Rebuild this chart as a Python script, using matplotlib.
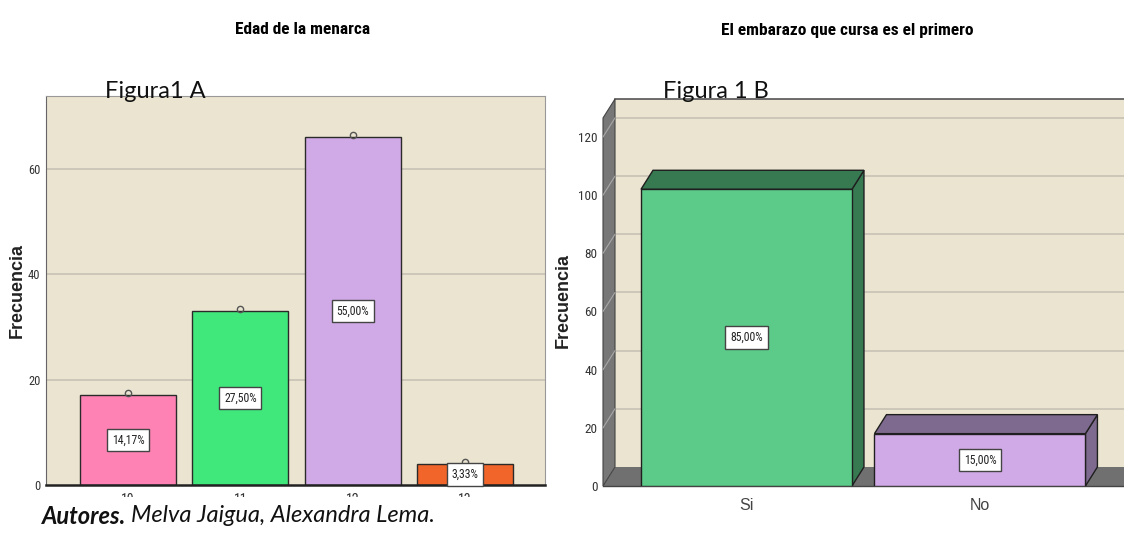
import matplotlib
matplotlib.use("Agg")
import matplotlib.pyplot as plt
from matplotlib import font_manager, transforms
from matplotlib.patches import Polygon, Rectangle
import numpy as np

# ---- data -------------------------------------------------------------
menarca_ages = ["10", "11", "12", "13"]
menarca_counts = [17, 33, 66, 4]
menarca_pct = ["14,17%", "27,50%", "55,00%", "3,33%"]
menarca_colors = ["#FF82B4", "#40E87C", "#D0AAE6", "#F2652A"]

primero_cats = ["Si", "No"]
primero_counts = [102, 18]
primero_pct = ["85,00%", "15,00%"]
primero_front = ["#5CCB8A", "#D0AAE6"]
primero_shade = ["#377A52", "#7E6A8E"]

left_yticks = [0, 20, 40, 60]
right_yticks = [0, 20, 40, 60, 80, 100, 120]


def pick(*names):
    avail = {f.name for f in font_manager.fontManager.ttflist}
    for n in names:
        if n in avail:
            return n
    return "DejaVu Sans"


NARROW = pick("Liberation Sans Narrow", "Roboto Condensed", "DejaVu Sans")
ARIAL = pick("Liberation Sans", "DejaVu Sans")
CAL = pick("Lato", "Open Sans", "DejaVu Sans")

W, H = 1124, 536
fig = plt.figure(figsize=(W / 100, H / 100), dpi=100)
fig.patch.set_facecolor("white")


def frac(x0, y0, x1, y1):
    return [x0 / W, 1 - y1 / H, (x1 - x0) / W, (y1 - y0) / H]


BEIGE = "#EAE4D0"
GRID = "#C9C4B6"
LABEL_BOX = dict(boxstyle="square,pad=0.4", fc="white", ec="#444", lw=1)

# ---- panel A: flat bar chart -----------------------------------------
ax1 = fig.add_axes(frac(46, 96, 545, 485))
ax1.set_facecolor(BEIGE)
xa = np.arange(len(menarca_ages))
ax1.bar(xa, menarca_counts, width=0.855, color=menarca_colors,
        edgecolor="#2a2a2a", linewidth=1.0, zorder=2)
ax1.set_xlim(-0.73, 3.71)
ax1.set_ylim(0, 73.8)
ax1.set_yticks(left_yticks)
ax1.set_xticks(xa)
ax1.set_xticklabels(menarca_ages, fontsize=10, family=NARROW, color="#333")
for lab in ax1.get_yticklabels():
    lab.set_family(NARROW)
ax1.tick_params(axis="y", length=0, pad=4, labelsize=9, labelcolor="#333")
ax1.tick_params(axis="x", length=0, pad=6)
for v in left_yticks[1:]:
    ax1.axhline(v, color=GRID, lw=1.3, zorder=1)
ax1.spines["left"].set_color("#666")
ax1.spines["bottom"].set_color("#222")
ax1.spines["bottom"].set_linewidth(1.8)
ax1.spines["top"].set_color("#999")
ax1.spines["right"].set_color("#999")

bump = transforms.offset_copy(ax1.transData, fig=fig, x=0, y=2, units="dots")
ax1.plot(xa, menarca_counts, "o", mfc="none", mec="#555", ms=4.5, mew=1,
         transform=bump, zorder=3, clip_on=False)
for x, c, p in zip(xa, menarca_counts, menarca_pct):
    ax1.text(x, c / 2, p, ha="center", va="center", fontsize=8.5,
             family=NARROW, color="#222", zorder=4, bbox=LABEL_BOX)

# ---- panel B: pseudo-3D bar chart -------------------------------------
ax2 = fig.add_axes(frac(603, 118, 1124, 486))
ax2.patch.set_visible(False)
for s in ax2.spines.values():
    s.set_visible(False)
XL, XR = -0.6146, 1.617
YMAX = 126.5
ax2.set_xlim(XL, XR)
ax2.set_ylim(0, YMAX)
DX, DY = 12, 19
back = transforms.offset_copy(ax2.transData, fig=fig, x=DX, y=DY, units="dots")
ident = transforms.IdentityTransform()


def d(x, y, shift=False):
    px, py = ax2.transData.transform((x, y))
    if shift:
        px += DX
        py += DY
    return (px, py)


# back wall
ax2.add_patch(Rectangle((XL, 0), XR - XL + 1, YMAX, transform=back,
                        facecolor=BEIGE, edgecolor="none", zorder=0,
                        clip_on=False))
for v in right_yticks[1:]:
    ax2.plot([XL, XR + 1], [v, v], color=GRID, lw=1.3, transform=back,
             zorder=0.5, clip_on=False)
ax2.plot([XL, XR + 1], [YMAX, YMAX], color="#555", lw=1.2, transform=back,
         zorder=0.6, clip_on=False)

# floor
ax2.add_patch(Polygon([d(XL, 0), d(XR + 1, 0), d(XR + 1, 0, True), d(XL, 0, True)],
                      closed=True, transform=ident, facecolor="#707070",
                      edgecolor="none", zorder=0.7, clip_on=False))
# left wall
ax2.add_patch(Polygon([d(XL, 0), d(XL, YMAX), d(XL, YMAX, True), d(XL, 0, True)],
                      closed=True, transform=ident, facecolor="#777777",
                      edgecolor="#444", lw=0.8, zorder=0.8, clip_on=False))
for v in right_yticks[1:]:
    a, b = d(XL, v), d(XL, v, True)
    ax2.plot([a[0], b[0]], [a[1], b[1]], color="#A8A8A8", lw=0.8,
             transform=ident, zorder=0.9, clip_on=False)
ax2.plot([d(XL, 0)[0], d(XR + 1, 0)[0]], [d(XL, 0)[1]] * 2, color="#444",
         lw=1.0, transform=ident, zorder=0.95, clip_on=False)

# bars
xb = np.arange(len(primero_cats))
BW = 0.9036
ax2.bar(xb, primero_counts, width=BW, color=primero_front, edgecolor="#1f1f1f",
        linewidth=1.0, zorder=2)
for x, h, sh in zip(xb, primero_counts, primero_shade):
    x0, x1 = x - BW / 2, x + BW / 2
    top = [d(x0, h), d(x1, h), d(x1, h, True), d(x0, h, True)]
    side = [d(x1, 0), d(x1, h), d(x1, h, True), d(x1, 0, True)]
    for poly in (side, top):
        ax2.add_patch(Polygon(poly, closed=True, transform=ident, facecolor=sh,
                              edgecolor="#1f1f1f", lw=1.0, zorder=1.9,
                              clip_on=False))
for x, c, p in zip(xb, primero_counts, primero_pct):
    ax2.text(x, c / 2, p, ha="center", va="center", fontsize=8.5,
             family=NARROW, color="#222", zorder=4, bbox=LABEL_BOX)

ax2.set_yticks(right_yticks)
for lab in ax2.get_yticklabels():
    lab.set_family(NARROW)
ax2.tick_params(axis="y", length=0, pad=4, labelsize=9.5, labelcolor="#333")
ax2.set_xticks(xb)
ax2.set_xticklabels(primero_cats, fontsize=11.5, family=ARIAL, color="#444")
ax2.tick_params(axis="x", length=0, pad=9)

# ---- axis titles, titles and annotations ------------------------------
fig.text(17 / W, 1 - 290 / H, "Frecuencia", rotation=90, ha="center",
         va="center", fontsize=13, fontweight="bold", family=ARIAL,
         color="#222")
fig.text(563 / W, 1 - 301 / H, "Frecuencia", rotation=90, ha="center",
         va="center", fontsize=13, fontweight="bold", family=ARIAL,
         color="#222")
fig.text(303 / W, 1 - 30 / H, "Edad de la menarca", ha="center", va="center",
         fontsize=12.5, fontweight="bold", family=NARROW, color="black")
fig.text(847 / W, 1 - 31 / H, "El embarazo que cursa es el primero",
         ha="center", va="center", fontsize=12.5, fontweight="bold",
         family=NARROW, color="black")
fig.text(105 / W, 1 - 92 / H, "Figura1 A", ha="left", va="center",
         fontsize=17, family=CAL, color="#111", zorder=5)
fig.text(663 / W, 1 - 91 / H, "Figura 1 B", ha="left", va="center",
         fontsize=17, family=CAL, color="#111", zorder=5)

# mask the lower part of panel A's category labels
fig.add_artist(Rectangle((0, 0), 548 / W, 39 / H, transform=fig.transFigure,
                         facecolor="white", edgecolor="none", zorder=3))
t1 = fig.text(42 / W, 1 - 516 / H, "Autores.", ha="left", va="center",
              fontsize=17, family=CAL, fontweight="bold", style="italic",
              color="#111", zorder=4)
fig.canvas.draw()
bb = t1.get_window_extent()
fig.text((bb.x1 + 5) / W, 1 - 516 / H, "Melva Jaigua, Alexandra Lema.",
         ha="left", va="center", fontsize=17, family=CAL, style="italic",
         color="#111", zorder=4)

fig.savefig("out.png", dpi=100, facecolor="white")
